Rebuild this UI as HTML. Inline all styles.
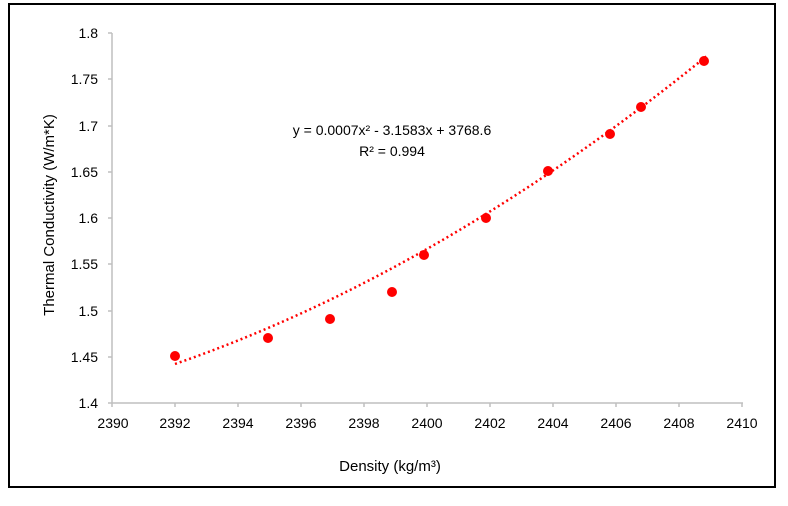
<!DOCTYPE html>
<html><head><style>body{margin:0;background:#fff}</style></head><body>
<svg width="788" height="501" xmlns="http://www.w3.org/2000/svg" font-family="Liberation Sans, sans-serif">
<rect x="0" y="0" width="788" height="501" fill="#fff"/>
<rect x="9" y="4" width="766" height="483" fill="none" stroke="#000" stroke-width="2"/>
<line x1="112" y1="33" x2="112" y2="407" stroke="#bfbfbf" stroke-width="1.5"/>
<line x1="108" y1="403" x2="743" y2="403" stroke="#bfbfbf" stroke-width="1.5"/>
<g stroke="#bfbfbf" stroke-width="1.5">
<line x1="108" y1="33" x2="112" y2="33"/><line x1="108" y1="79" x2="112" y2="79"/><line x1="108" y1="126" x2="112" y2="126"/><line x1="108" y1="172" x2="112" y2="172"/><line x1="108" y1="218" x2="112" y2="218"/><line x1="108" y1="264" x2="112" y2="264"/><line x1="108" y1="311" x2="112" y2="311"/><line x1="108" y1="357" x2="112" y2="357"/>
<line x1="175" y1="403" x2="175" y2="407"/><line x1="238" y1="403" x2="238" y2="407"/><line x1="301" y1="403" x2="301" y2="407"/><line x1="364" y1="403" x2="364" y2="407"/><line x1="427" y1="403" x2="427" y2="407"/><line x1="490" y1="403" x2="490" y2="407"/><line x1="553" y1="403" x2="553" y2="407"/><line x1="616" y1="403" x2="616" y2="407"/><line x1="679" y1="403" x2="679" y2="407"/><line x1="742" y1="403" x2="742" y2="407"/>
</g>
<g font-size="14" fill="#000" text-anchor="end">
<text x="98" y="38">1.8</text><text x="98" y="84">1.75</text><text x="98" y="131">1.7</text><text x="98" y="177">1.65</text><text x="98" y="223">1.6</text><text x="98" y="269">1.55</text><text x="98" y="316">1.5</text><text x="98" y="362">1.45</text><text x="98" y="408">1.4</text>
</g>
<g font-size="14" fill="#000" text-anchor="middle">
<text x="113" y="428">2390</text><text x="175" y="428">2392</text><text x="238" y="428">2394</text><text x="301" y="428">2396</text><text x="364" y="428">2398</text><text x="427" y="428">2400</text><text x="490" y="428">2402</text><text x="553" y="428">2404</text><text x="616" y="428">2406</text><text x="679" y="428">2408</text><text x="742" y="428">2410</text>
<text x="390" y="471" font-size="15">Density (kg/m³)</text>
<text x="392" y="135">y = 0.0007x² - 3.1583x + 3768.6</text>
<text x="392" y="156">R² = 0.994</text>
</g>
<text transform="translate(54,215) rotate(-90)" font-size="15" text-anchor="middle">Thermal Conductivity (W/m*K)</text>
<path d="M175,364 Q441,272 708,55" fill="none" stroke="#f00" stroke-width="2.5" stroke-dasharray="2,3"/>
<g fill="#f00">
<circle cx="175" cy="356" r="5"/><circle cx="268" cy="338" r="5"/><circle cx="330" cy="319" r="5"/><circle cx="392" cy="292" r="5"/><circle cx="424" cy="255" r="5"/><circle cx="486" cy="218" r="5"/><circle cx="548" cy="171" r="5"/><circle cx="610" cy="134" r="5"/><circle cx="641" cy="107" r="5"/><circle cx="704" cy="61" r="5"/>
</g>
</svg>
</body></html>
